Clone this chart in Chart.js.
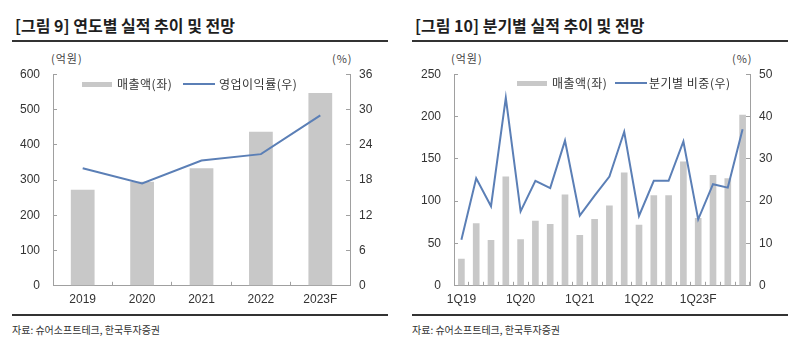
<!DOCTYPE html>
<html>
<head>
<meta charset="utf-8">
<script src="https://cdn.jsdelivr.net/npm/chart.js@4/dist/chart.umd.min.js"></script>
<style>
  body { margin: 0; width: 800px; height: 340px; background: #fff; position: relative; overflow: hidden;
         font-family: 'Noto Sans CJK KR', sans-serif; color: #222; }
  .title { position: absolute; top: 17px; font-size: 16px; line-height: 17px; font-weight: bold; white-space: nowrap; color: #1e1e1e; }
  .rule { position: absolute; height: 2px; width: 376px; background: #333; }
  .src { position: absolute; top: 323px; font-size: 10px; line-height: 14px; color: #333; white-space: nowrap; }
  .unit { position: absolute; top: 52px; font-size: 11px; line-height: 13px; color: #444; letter-spacing: 1px; }
  .box { position: absolute; top: 50px; width: 400px; height: 260px; }
  .leg { position: absolute; font-size: 12px; color: #333; line-height: 14px; white-space: nowrap; letter-spacing: 0.5px; }
  .sw { position: absolute; }
</style>
</head>
<body>

<div class="title" style="left:15px">[그림 9] 연도별 실적 추이 및 전망</div>
<div class="rule" style="left:12px; top:40px"></div>
<div class="unit" style="left:51px">(억원)</div>
<div class="unit" style="left:332px">(%)</div>
<div class="box" style="left:0"><canvas id="annual"></canvas></div>
<div class="rule" style="left:12px; top:314px"></div>
<div class="src" style="left:12px">자료: 슈어소프트테크, 한국투자증권</div>

<div class="title" style="left:415px">[그림 10] 분기별 실적 추이 및 전망</div>
<div class="rule" style="left:412px; top:40px"></div>
<div class="unit" style="left:451px">(억원)</div>
<div class="unit" style="left:732px">(%)</div>
<div class="box" style="left:400px"><canvas id="quarterly"></canvas></div>
<div class="rule" style="left:412px; top:314px"></div>
<div class="src" style="left:412px">자료: 슈어소프트테크, 한국투자증권</div>

<div id="legends"></div>

<script>
// 연도별
var years = ['2019', '2020', '2021', '2022', '2023F'];
var annualSales = [272, 295, 333, 437, 547];      // 억원
var annualMargin = [20.0, 17.4, 21.3, 22.4, 29.0]; // %
var annualNames = ['매출액(좌)', '영업이익률(우)'];

// 분기별
var quarters = ['1Q19', '2Q19', '3Q19', '4Q19', '1Q20', '2Q20', '3Q20', '4Q20',
                '1Q21', '2Q21', '3Q21', '4Q21', '1Q22', '2Q22', '3Q22', '4Q22',
                '1Q23F', '2Q23F', '3Q23F', '4Q23F'];
var quarterSales = [32, 74, 54, 129, 55, 77, 73, 108, 60, 79, 95, 134, 72, 107, 107, 147, 80, 131, 127, 202];
var quarterShare = [10.9, 25.4, 18.8, 44.4, 17.6, 24.8, 23.1, 34.3, 16.6, 21.3, 25.8, 36.4,
                    16.5, 24.8, 24.8, 34.1, 15.7, 24.0, 23.2, 37.0];
var quarterNames = ['매출액(좌)', '분기별 비중(우)'];

var BAR = '#c8c8c8';
var LINE = '#5b7fb6';
var AXIS = '#a0a0a0';
var TICK_FONT = { family: "'Liberation Sans', Arial, sans-serif", size: 12 };

function fixed(w) {
  return function (scale) { if (scale.isHorizontal()) scale.height = w; else scale.width = w; };
}

function axisGrid() {
  // ticks point inward, no lines across the plot
  return { drawOnChartArea: false, color: AXIS, tickLength: -4 };
}

function makeChart(id, labels, sales, pct, names, opt) {
  var ctx = document.getElementById(id).getContext('2d');
  return new Chart(ctx, {
    data: {
      labels: labels,
      datasets: [
        { type: 'line', label: names[1], data: pct, yAxisID: 'y1', borderColor: LINE,
          borderWidth: 2, pointRadius: 0, tension: 0, order: 0 },
        { type: 'bar', label: names[0], data: sales, yAxisID: 'y', backgroundColor: BAR,
          barPercentage: opt.barPct, categoryPercentage: 1, order: 1 }
      ]
    },
    options: {
      responsive: true,
      maintainAspectRatio: false,
      animation: false,
      layout: { padding: { top: opt.top, left: 0, right: 0, bottom: 0 } },
      plugins: { legend: { display: false }, tooltip: { enabled: false } },
      scales: {
        x: {
          grid: Object.assign(axisGrid(), { offset: true }),
          border: { color: AXIS },
          afterFit: fixed(opt.xH),
          ticks: {
            color: '#333', font: TICK_FONT, padding: 11, autoSkip: false, maxRotation: 0,
            callback: function (v, i) {
              var s = this.getLabelForValue(v);
              return opt.every ? (i % opt.every === 0 ? s : '') : s;
            }
          }
        },
        y: {
          position: 'left', min: 0, max: opt.leftMax,
          grid: axisGrid(), border: { color: AXIS },
          afterFit: fixed(opt.leftW),
          ticks: { stepSize: opt.leftStep, color: '#333', font: TICK_FONT, padding: 17 }
        },
        y1: {
          position: 'right', min: 0, max: opt.rightMax,
          grid: axisGrid(), border: { color: AXIS },
          afterFit: fixed(50),
          ticks: { stepSize: opt.rightStep, color: '#333', font: TICK_FONT, padding: 13 }
        }
      }
    }
  });
}

makeChart('annual', years, annualSales, annualMargin, annualNames,
  { top: 22, xH: 21, leftW: 53, leftMax: 600, leftStep: 100, rightMax: 36, rightStep: 6, barPct: 0.4 });
makeChart('quarterly', quarters, quarterSales, quarterShare, quarterNames,
  { top: 21, xH: 23, leftW: 54, leftMax: 250, leftStep: 50, rightMax: 50, rightStep: 10, barPct: 0.45, every: 4 });

// legends inside plot area
function legend(x, y, names, lineX, textX2) {
  var root = document.getElementById('legends');
  root.insertAdjacentHTML('beforeend',
    '<div class="sw" style="left:' + x + 'px;top:' + (y - 2) + 'px;width:30px;height:5px;background:' + BAR + '"></div>' +
    '<div class="leg" style="left:' + (x + 35) + 'px;top:' + (y - 7) + 'px">' + names[0] + '</div>' +
    '<div class="sw" style="left:' + lineX + 'px;top:' + (y - 1) + 'px;width:32px;height:2px;background:' + LINE + '"></div>' +
    '<div class="leg" style="left:' + textX2 + 'px;top:' + (y - 7) + 'px">' + names[1] + '</div>');
}
legend(82, 84, annualNames, 183, 219);
legend(517, 83, quarterNames, 615, 649);
</script>
</body>
</html>
